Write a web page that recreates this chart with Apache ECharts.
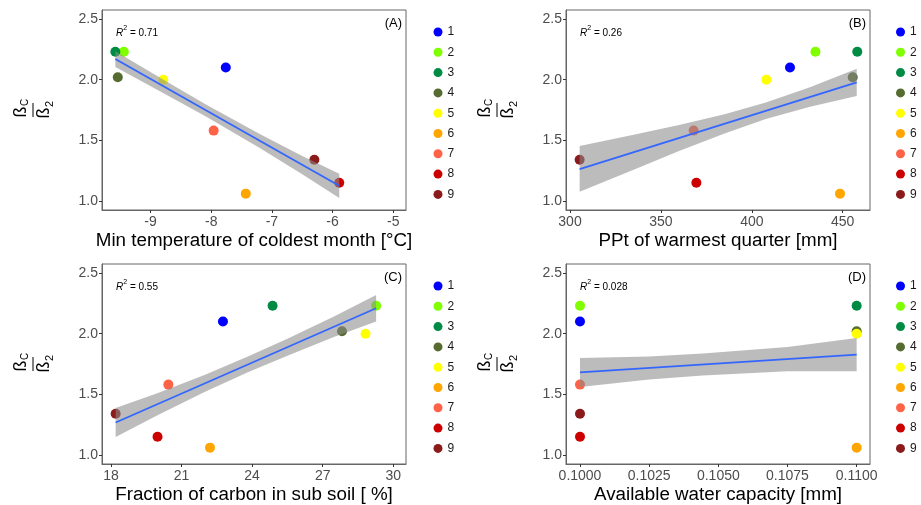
<!DOCTYPE html>
<html>
<head>
<meta charset="utf-8">
<script src="https://cdn.jsdelivr.net/npm/echarts@6/dist/echarts.min.js"></script>
<style>
html, body { margin: 0; padding: 0; background: #fff; }
#chart { width: 921px; height: 505px; }
</style>
</head>
<body>
<div id="chart"></div>
<script>
// sites 1..9 and the ratio on the y axis (same for every panel)
var sites = ['1', '2', '3', '4', '5', '6', '7', '8', '9'];
var siteColors = ['#0000FF', '#7FFF00', '#008B45', '#556B2F', '#FFFF00', '#FFA500', '#FF6347', '#CD0000', '#8B1A1A'];
var ratio = [2.10, 2.23, 2.23, 2.02, 2.00, 1.06, 1.58, 1.15, 1.34];

// x values per panel
var minTemp = [-7.76, -9.44, -9.58, -9.54, -8.79, -7.43, -7.96, -5.89, -6.30];
var pptWarm = [421, 435, 458, 455.5, 408, 448.5, 368, 369.5, 305.3];
var carbonSub = [22.76, 29.27, 24.87, 27.82, 28.82, 22.21, 20.44, 19.98, 18.2];
var waterCap = [0.100, 0.100, 0.110, 0.110, 0.110, 0.110, 0.100, 0.100, 0.100];

// tick labels
var ratioTicks = [1.0, 1.5, 2.0, 2.5];
var tempTicks = [-9, -8, -7, -6, -5];
var pptTicks = [300, 350, 400, 450];
var carbonTicks = [18, 21, 24, 27, 30];
var waterTicks = [0.1, 0.1025, 0.105, 0.1075, 0.11];

// fitted lines (end points)
var fitTemp = [[-9.58, 2.17], [-5.89, 1.125]];
var fitPpt = [[305.3, 1.262], [457.7, 1.978]];
var fitCarbon = [[18.2, 1.267], [29.27, 2.21]];
var fitWater = [[0.100, 1.681], [0.110, 1.827]];

// confidence bands
var bandTempX = [-9.58, -8.8, -8.08, -7.2, -6.5, -5.89];
var bandTempUp = [2.235, 2.003, 1.794, 1.552, 1.37, 1.225];
var bandTempLo = [2.105, 1.893, 1.694, 1.436, 1.22, 1.025];

var bandPptX = [305.3, 335, 360, 385, 407.7, 432, 457.7];
var bandPptUp = [1.453, 1.545, 1.626, 1.715, 1.811, 1.937, 2.09];
var bandPptLo = [1.076, 1.257, 1.412, 1.557, 1.675, 1.777, 1.866];

var bandCarbonX = [18.2, 20, 22, 23.82, 25.5, 27.5, 29.27];
var bandCarbonUp = [1.387, 1.51, 1.661, 1.811, 1.959, 2.144, 2.32];
var bandCarbonLo = [1.147, 1.33, 1.521, 1.681, 1.819, 1.974, 2.10];

var bandWaterX = [0.100, 0.1025, 0.10444, 0.1075, 0.110];
var bandWaterUp = [1.80, 1.812, 1.836, 1.89, 1.964];
var bandWaterLo = [1.56, 1.622, 1.656, 1.69, 1.69];

var FONT = 'Liberation Sans, Arial, sans-serif';

var panels = [
  { tag: '(A)', r2: '0.71', xs: minTemp, xMin: -9.8, xMax: -4.79, ticks: tempTicks, digits: 0,
    xName: 'Min temperature of coldest month [°C]', fit: fitTemp,
    bx: bandTempX, bu: bandTempUp, bl: bandTempLo, left: 102, top: 10, legendX: 433.5, barX: 33 },
  { tag: '(B)', r2: '0.26', xs: pptWarm, xMin: 297.8, xMax: 465, ticks: pptTicks, digits: 0,
    xName: 'PPt of warmest quarter [mm]', fit: fitPpt,
    bx: bandPptX, bu: bandPptUp, bl: bandPptLo, left: 566, top: 10, legendX: 896, barX: 497 },
  { tag: '(C)', r2: '0.55', xs: carbonSub, xMin: 17.62, xMax: 30.54, ticks: carbonTicks, digits: 0,
    xName: 'Fraction of carbon in sub soil [ %]', fit: fitCarbon,
    bx: bandCarbonX, bu: bandCarbonUp, bl: bandCarbonLo, left: 102, top: 264, legendX: 433.5, barX: 33 },
  { tag: '(D)', r2: '0.028', xs: waterCap, xMin: 0.099494, xMax: 0.110482, ticks: waterTicks, digits: 4,
    xName: 'Available water capacity [mm]', fit: fitWater,
    bx: bandWaterX, bu: bandWaterUp, bl: bandWaterLo, left: 566, top: 264, legendX: 896, barX: 497 }
];

var chartDom = document.getElementById('chart');
var myChart = echarts.init(chartDom, null, { renderer: 'canvas' });

var grids = [], xAxes = [], yAxes = [], series = [], legends = [], graphics = [];

panels.forEach(function (p, k) {
  grids.push({ left: p.left, top: p.top, width: 304, height: 200, show: true,
    borderColor: '#666', borderWidth: 1, backgroundColor: '#fff' });

  xAxes.push({
    gridIndex: k, type: 'value', min: p.xMin, max: p.xMax,
    axisLine: { show: true, onZero: false, lineStyle: { color: '#666' } },
    splitLine: { show: false },
    axisTick: { show: true, length: 3, customValues: p.ticks, lineStyle: { color: '#333' } },
    axisLabel: { customValues: p.ticks, color: '#4d4d4d', fontSize: 14, margin: 5, fontFamily: FONT,
      formatter: (function (d) { return function (v) { return v.toFixed(d); }; })(p.digits) },
    name: p.xName, nameLocation: 'middle', nameGap: 21,
    nameTextStyle: { fontSize: 18.8, color: '#000', fontFamily: FONT }
  });

  yAxes.push({
    gridIndex: k, type: 'value', min: 0.925, max: 2.575,
    axisLine: { show: true, onZero: false, lineStyle: { color: '#666' } },
    splitLine: { show: false },
    axisTick: { show: true, length: 3, customValues: ratioTicks, lineStyle: { color: '#333' } },
    axisLabel: { customValues: ratioTicks, color: '#4d4d4d', fontSize: 14, margin: 4, fontFamily: FONT,
      formatter: function (v) { return v.toFixed(1); } }
  });

  // points
  sites.forEach(function (s, i) {
    series.push({
      type: 'scatter', name: s, xAxisIndex: k, yAxisIndex: k,
      data: [[p.xs[i], ratio[i]]], symbolSize: 10, z: 2,
      itemStyle: { color: siteColors[i], opacity: 1 }
    });
  });

  // confidence band, drawn on top of the points like in the figure
  series.push({
    type: 'custom', xAxisIndex: k, yAxisIndex: k, silent: true, z: 3, clip: false,
    data: [[p.bx[0], p.bu[0]]],
    renderItem: (function (bx, bu, bl) {
      return function (params, api) {
        var pts = [];
        for (var j = 0; j < bx.length; j++) pts.push(api.coord([bx[j], bu[j]]));
        for (var j2 = bx.length - 1; j2 >= 0; j2--) pts.push(api.coord([bx[j2], bl[j2]]));
        return { type: 'polygon', shape: { points: pts },
          style: { fill: 'rgba(140,140,140,0.58)' } };
      };
    })(p.bx, p.bu, p.bl)
  });

  // fitted line
  series.push({
    type: 'line', xAxisIndex: k, yAxisIndex: k, data: p.fit, symbol: 'none', silent: true, z: 4,
    lineStyle: { color: '#3366FF', width: 1.8 }
  });

  legends.push({
    data: sites, orient: 'vertical', left: p.legendX, top: p.top + 16,
    icon: 'circle', itemWidth: 9, itemHeight: 9, itemGap: 8.3, padding: 0,
    textStyle: { fontSize: 12, color: '#1a1a1a', fontFamily: FONT, lineHeight: 12 },
    selectedMode: false
  });

  // R^2 text
  graphics.push({
    type: 'text', left: p.left + 14, top: p.top + 15,
    style: {
      text: '{i|R}{s|2}{n| = ' + p.r2 + '}', fontFamily: FONT,
      rich: {
        i: { fontSize: 10, fontStyle: 'italic', color: '#1a1a1a', lineHeight: 13, verticalAlign: 'bottom' },
        s: { fontSize: 7, color: '#1a1a1a', lineHeight: 13, verticalAlign: 'top' },
        n: { fontSize: 10, color: '#1a1a1a', lineHeight: 13, verticalAlign: 'bottom' }
      }
    }
  });
  // panel tag
  graphics.push({
    type: 'text', x: p.left + 300, y: p.top + 13,
    style: { text: p.tag, fontSize: 13, fill: '#000', fontFamily: FONT, align: 'right', verticalAlign: 'middle' }
  });
  // y axis title: beta_C over beta_2, rotated
  graphics.push({
    type: 'group', x: p.barX, y: p.top + 100, rotation: Math.PI / 2,
    children: [
      { type: 'line', shape: { x1: -7, y1: 0, x2: 7, y2: 0 }, style: { stroke: '#000', lineWidth: 1 } },
      { type: 'text', x: -2, y: -3, style: { text: 'ß', fontSize: 18, fill: '#000', fontFamily: FONT, align: 'center', verticalAlign: 'bottom' } },
      { type: 'text', x: 4, y: -3, style: { text: 'C', fontSize: 10, fill: '#000', fontFamily: FONT, align: 'left', verticalAlign: 'bottom' } },
      { type: 'text', x: -3, y: 2, style: { text: 'ß', fontSize: 18, fill: '#000', fontFamily: FONT, align: 'center', verticalAlign: 'top' } },
      { type: 'text', x: 3, y: 11, style: { text: '2', fontSize: 11, fill: '#000', fontFamily: FONT, align: 'left', verticalAlign: 'top' } }
    ]
  });
});

var option = {
  animation: false,
  backgroundColor: '#fff',
  grid: grids,
  xAxis: xAxes,
  yAxis: yAxes,
  legend: legends,
  tooltip: {},
  series: series,
  graphic: graphics
};

option && myChart.setOption(option);
</script>
</body>
</html>
